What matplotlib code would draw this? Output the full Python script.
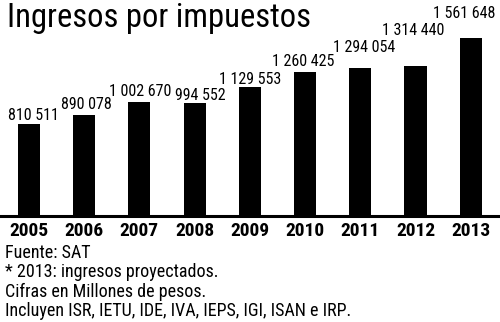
import matplotlib
matplotlib.use("Agg")
import matplotlib.pyplot as plt

# Ingresos tributarios, millones de pesos
years = ["2005", "2006", "2007", "2008", "2009", "2010", "2011", "2012", "2013"]
ingresos = [810511, 890078, 1002670, 994552, 1129553, 1260425, 1294054, 1314440, 1561648]

# nudges (px) for the value labels: sideways and above the bar top
label_dx = [4, 2, 0.5, 5.5, 0, -2, 4, -2, -7]
label_dy = [3.5, 6, 6, 3, 3, 6, 16, 31, 20]

notas = [
    "Fuente: SAT",
    "* 2013: ingresos proyectados.",
    "Cifras en Millones de pesos.",
    "Incluyen ISR, IETU, IDE, IVA, IEPS, IGI, ISAN e IRP.",
]

plt.rcParams["font.family"] = ["Roboto Condensed", "DejaVu Sans"]

W, H = 500, 322
fig = plt.figure(figsize=(W / 100, H / 100), dpi=100)
base_y = 216
ax = fig.add_axes([0, (H - base_y) / H, 1, base_y / H])

x = list(range(len(years)))
ax.bar(x, ingresos, width=0.4, color="black")
ax.set_xlim(-0.525, 8.53)
ax.set_ylim(0, base_y * 8770)
ax.axhline(0, color="black", lw=2.2, clip_on=False)
ax.axis("off")


def fmt(v):
    return f"{v:,}".replace(",", " ")


for i, v in enumerate(ingresos):
    ax.annotate(fmt(v), (i, v), xytext=(label_dx[i], label_dy[i]),
                textcoords="offset pixels", ha="center", va="baseline",
                fontsize=11.5, color="black")
    ax.annotate(years[i], (i, 0), xytext=(0, -6), textcoords="offset pixels",
                ha="center", va="top", fontsize=14, fontweight="bold")

fig.text(7 / W, 1 - 27 / H, "Ingresos por impuestos", fontsize=23.5,
         ha="left", va="baseline")

for k, linea in enumerate(notas):
    yb = 258 + k * 19.3
    fig.text(5 / W, 1 - yb / H, linea, fontsize=13, ha="left", va="baseline")

fig.savefig("out.png", dpi=100, facecolor="white")
